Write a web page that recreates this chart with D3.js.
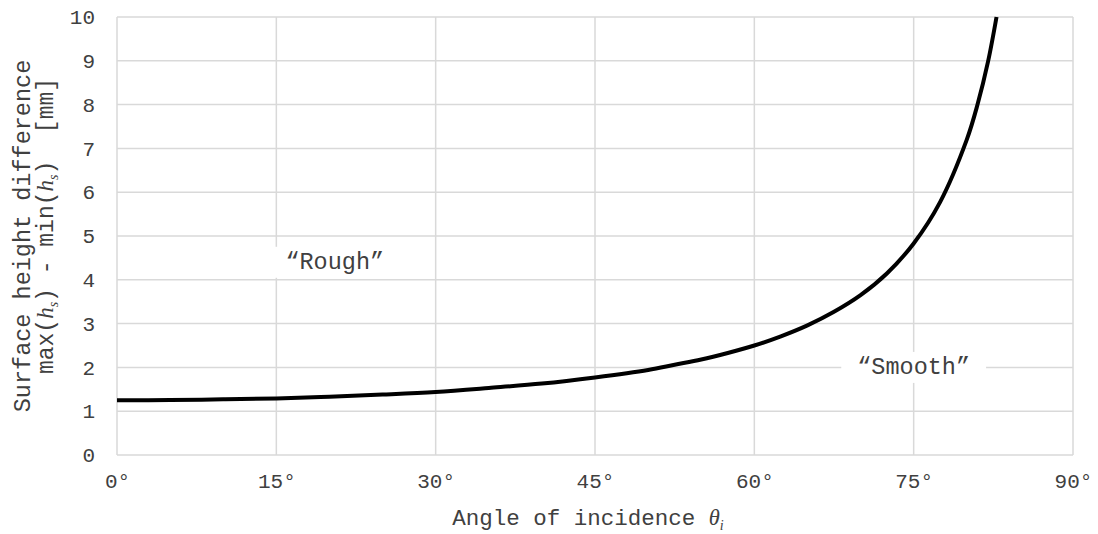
<!DOCTYPE html>
<html>
<head>
<meta charset="utf-8">
<script src="https://cdn.jsdelivr.net/npm/d3@7"></script>
<style>
  html, body { margin: 0; padding: 0; background: #fff; }
  svg { display: block; }
  text { font-family: "Courier New", "Liberation Mono", monospace; fill: #404040; white-space: pre; }
  .it { font-family: "Times New Roman", "Liberation Serif", serif; font-style: italic; }
</style>
</head>
<body>
<svg id="chart" width="1098" height="534"></svg>
<script>
// Angle of incidence (degrees) and the surface height difference (mm)
const angles  = [0, 5, 10, 15, 20, 25, 30, 35, 40, 45, 50, 52.5, 55, 57.5, 60, 62.5, 65, 67.5, 70, 72.5, 75, 77.5, 80, 81, 82, 82.8];
const heights = [1.25, 1.255, 1.27, 1.29, 1.33, 1.38, 1.44, 1.53, 1.63, 1.77, 1.94, 2.06, 2.18, 2.33, 2.5, 2.71, 2.96, 3.27, 3.65, 4.15, 4.83, 5.78, 7.2, 7.99, 8.98, 10.0];

const xTicks = [0, 15, 30, 45, 60, 75, 90];
const yTicks = [0, 1, 2, 3, 4, 5, 6, 7, 8, 9, 10];

// Region labels: [text, angle, height]
const regionLabels = [
  ["\u201CRough\u201D", 20.5, 4.4],
  ["\u201CSmooth\u201D", 75, 2.0]
];

const svg = d3.select("#chart");
const margin = { left: 117, right: 25, top: 17, bottom: 79 };
const W = 1098, H = 534;

const x = d3.scaleLinear().domain([0, 90]).range([margin.left, W - margin.right]);
const y = d3.scaleLinear().domain([0, 10]).range([H - margin.bottom, margin.top]);

const grid = svg.append("g");
grid.selectAll("line.h").data(yTicks).join("line")
  .attr("x1", x(0)).attr("x2", x(90))
  .attr("y1", d => y(d)).attr("y2", d => y(d))
  .attr("stroke", "#d9d9d9").attr("stroke-width", 1.5);
grid.selectAll("line.v").data(xTicks).join("line")
  .attr("x1", d => x(d)).attr("x2", d => x(d))
  .attr("y1", y(0)).attr("y2", y(10))
  .attr("stroke", "#d9d9d9").attr("stroke-width", 1.5);

// Axis tick labels
const yAxis = d3.axisLeft(y).tickValues(yTicks).tickSize(0).tickPadding(22).tickFormat(d3.format("d"));
const gy = svg.append("g").attr("transform", `translate(${x(0)},0)`).call(yAxis);
gy.select(".domain").remove();
gy.selectAll("text").style("font-size", "21px").attr("fill", "#404040")
  .style("font-family", '"Courier New", "Liberation Mono", monospace');

const xAxis = d3.axisBottom(x).tickValues(xTicks).tickSize(0).tickPadding(18).tickFormat(d => d + "\u00B0");
const gx = svg.append("g").attr("transform", `translate(0,${y(0)})`).call(xAxis);
gx.select(".domain").remove();
gx.selectAll("text").style("font-size", "21px").attr("fill", "#404040")
  .style("font-family", '"Courier New", "Liberation Mono", monospace');

// Curve
const line = d3.line().x((d, i) => x(angles[i])).y(d => y(d)).curve(d3.curveCatmullRom.alpha(0.5));
svg.append("path").datum(heights)
  .attr("d", line)
  .attr("fill", "none").attr("stroke", "#000").attr("stroke-width", 4)
  .attr("stroke-linejoin", "round");

// Region labels with white backing
regionLabels.forEach(([t, a, h]) => {
  const g = svg.append("g");
  const txt = g.append("text")
    .attr("x", x(a)).attr("y", y(h))
    .attr("text-anchor", "middle").attr("dominant-baseline", "central")
    .style("font-size", "23.5px").text(t);
  const bb = txt.node().getBBox();
  g.insert("rect", "text")
    .attr("x", bb.x - 16).attr("y", bb.y - 2)
    .attr("width", bb.width + 32).attr("height", bb.height + 4)
    .attr("fill", "#fff");
});

// X axis title
const xt = svg.append("text")
  .attr("x", 588).attr("y", 525)
  .attr("text-anchor", "middle").style("font-size", "22.5px");
xt.append("tspan").text("Angle of incidence ");
xt.append("tspan").attr("class", "it").text("\u03B8");
xt.append("tspan").attr("class", "it").attr("dy", 5).style("font-size", "14px").text("i");

// Y axis title (two lines)
const cy = (y(0) + y(10)) / 2;
const yt = svg.append("text")
  .attr("transform", `translate(30,${cy}) rotate(-90)`)
  .attr("text-anchor", "middle").style("font-size", "23.5px");
yt.append("tspan").attr("x", 0).attr("y", 0).text("Surface height difference");

const yt2 = svg.append("text")
  .attr("transform", `translate(53,${cy - 10}) rotate(-90)`)
  .attr("text-anchor", "middle").style("font-size", "23px");
yt2.append("tspan").text("max(");
yt2.append("tspan").attr("class", "it").text("h");
yt2.append("tspan").attr("class", "it").attr("dy", 5).style("font-size", "14px").text("s");
yt2.append("tspan").attr("dy", -5).text(") - min(");
yt2.append("tspan").attr("class", "it").text("h");
yt2.append("tspan").attr("class", "it").attr("dy", 5).style("font-size", "14px").text("s");
yt2.append("tspan").attr("dy", -5).text(")  [mm]");
</script>
</body>
</html>
